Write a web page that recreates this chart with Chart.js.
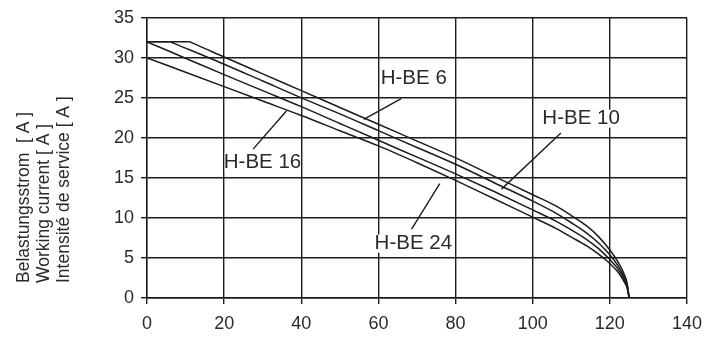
<!DOCTYPE html>
<html>
<head>
<meta charset="utf-8">
<script src="https://cdn.jsdelivr.net/npm/chart.js@4/dist/chart.umd.min.js"></script>
<style>
  html, body { margin: 0; padding: 0; background: #ffffff; }
  #wrap { width: 715px; height: 338px; position: relative; }
</style>
</head>
<body>
<div id="wrap"><canvas id="c" width="715" height="338"></canvas></div>
<script>
// ---- data ----
const seriesNames = ["H-BE 6", "H-BE 10", "H-BE 16", "H-BE 24"];
const h6X  = [0, 11, 12, 20, 30, 40, 50, 60, 70, 80, 90, 100, 106, 110, 114, 117, 120, 122, 123.5, 124.5, 125];
const h6Y  = [32, 32, 31.8, 30.1, 28.0, 25.9, 23.8, 21.7, 19.6, 17.5, 15.2, 12.9, 11.5, 10.3, 9.0, 7.7, 6.0, 4.6, 3.2, 1.8, 0];
const h10X = [0, 6, 7, 20, 30, 40, 50, 60, 70, 80, 90, 100, 106, 110, 114, 117, 120, 122, 123.5, 124.5, 125];
const h10Y = [32, 32, 31.8, 29.2, 27.1, 25.0, 23.0, 20.9, 18.8, 16.7, 14.4, 12.1, 10.6, 9.4, 8.1, 6.9, 5.4, 4.1, 2.8, 1.6, 0];
const h16X = [0, 10, 20, 30, 40, 50, 60, 70, 80, 90, 100, 106, 110, 114, 117, 120, 122, 123.5, 124.5, 125];
const h16Y = [32, 29.95, 27.9, 25.9, 23.9, 21.8, 19.7, 17.6, 15.5, 13.3, 11.0, 9.6, 8.5, 7.3, 6.2, 4.8, 3.7, 2.5, 1.4, 0];
const h24X = [0, 10, 20, 30, 40, 50, 60, 70, 80, 90, 100, 106, 110, 114, 117, 120, 122, 123.5, 124.5, 125];
const h24Y = [30, 28.2, 26.4, 24.6, 22.8, 20.9, 19.0, 16.9, 14.7, 12.4, 10.1, 8.7, 7.6, 6.5, 5.5, 4.3, 3.3, 2.2, 1.2, 0];
const xTicks = [0, 20, 40, 60, 80, 100, 120, 140];
const yTicks = [0, 5, 10, 15, 20, 25, 30, 35];
const yTitleLines = ["Belastungsstrom  [ A ]", "Working current [ A ]", "Intensité de service [ A ]"];

// curve labels with leader lines, in data units
const labelText  = ["H-BE 6", "H-BE 10", "H-BE 16", "H-BE 24"];
const labelAtX   = [60.6, 102.5, 19.9, 59.0];
const labelAtY   = [27.4, 22.4, 17.0, 6.8];
const leaderFrom = [[65.9, 24.9], [107.3, 20.6], [27.5, 18.6], [68.6, 8.6]];
const leaderTo   = [[56.2, 22.3], [91.9, 13.6], [36.2, 23.4], [75.9, 14.3]];

function pts(xs, ys) { return xs.map((x, i) => ({ x: x, y: ys[i] })); }

const INK = '#1c1c1c';
const TXT = '#2a2a2a';
const FONT = '"Liberation Sans", Arial, Helvetica, sans-serif';

const annotPlugin = {
  id: 'annot',
  afterDatasetsDraw(chart) {
    const ctx = chart.ctx;
    const xs = chart.scales.x, ys = chart.scales.y;
    ctx.save();
    ctx.strokeStyle = INK;
    ctx.lineWidth = 1.4;
    for (let i = 0; i < labelText.length; i++) {
      ctx.beginPath();
      ctx.moveTo(xs.getPixelForValue(leaderFrom[i][0]), ys.getPixelForValue(leaderFrom[i][1]));
      ctx.lineTo(xs.getPixelForValue(leaderTo[i][0]), ys.getPixelForValue(leaderTo[i][1]));
      ctx.stroke();
    }
    ctx.font = '20.5px ' + FONT;
    ctx.textAlign = 'left';
    ctx.textBaseline = 'middle';
    for (let i = 0; i < labelText.length; i++) {
      const tx = xs.getPixelForValue(labelAtX[i]);
      const ty = ys.getPixelForValue(labelAtY[i]);
      const w = ctx.measureText(labelText[i]).width;
      ctx.fillStyle = '#ffffff';
      ctx.fillRect(tx + 1, ty - 9, w - 2, 18);
      ctx.fillStyle = TXT;
      ctx.fillText(labelText[i], tx, ty);
    }
    ctx.restore();
  },
  afterDraw(chart) {
    const ctx = chart.ctx;
    ctx.save();
    ctx.fillStyle = TXT;
    ctx.font = '17.5px ' + FONT;
    ctx.textAlign = 'left';
    ctx.textBaseline = 'middle';
    const cols = [24, 44, 64];
    for (let i = 0; i < yTitleLines.length; i++) {
      ctx.save();
      ctx.translate(cols[i], 283);
      ctx.rotate(-Math.PI / 2);
      ctx.fillText(yTitleLines[i], 0, 0);
      ctx.restore();
    }
    ctx.restore();
  }
};

const mk = (label, xs, ys) => ({
  label: label,
  data: pts(xs, ys),
  borderColor: INK,
  backgroundColor: INK,
  borderWidth: 1.5,
  pointRadius: 0,
  fill: false,
  cubicInterpolationMode: 'monotone'
});

new Chart(document.getElementById('c'), {
  type: 'line',
  data: {
    datasets: [
      mk(seriesNames[0], h6X, h6Y),
      mk(seriesNames[1], h10X, h10Y),
      mk(seriesNames[2], h16X, h16Y),
      mk(seriesNames[3], h24X, h24Y)
    ]
  },
  options: {
    responsive: false,
    animation: false,
    devicePixelRatio: 1,
    layout: { padding: { left: 0, right: 28, top: 16, bottom: 0 } },
    plugins: { legend: { display: false }, tooltip: { enabled: false }, title: { display: false } },
    scales: {
      x: {
        type: 'linear',
        min: 0, max: 140,
        afterBuildTicks: (s) => { s.ticks = xTicks.map(v => ({ value: v })); },
        afterFit: (s) => { s.height = 40; },
        grid: { color: INK, lineWidth: 1.4, drawTicks: true, tickLength: 6, tickColor: INK },
        border: { display: true, color: INK, width: 1.4 },
        ticks: { color: TXT, font: { family: FONT, size: 18 }, padding: 9, maxRotation: 0 }
      },
      y: {
        type: 'linear',
        min: 0, max: 35,
        afterBuildTicks: (s) => { s.ticks = yTicks.map(v => ({ value: v })); },
        afterFit: (s) => { s.width = 147; },
        grid: { color: INK, lineWidth: 1.4, drawTicks: true, tickLength: 6, tickColor: INK },
        border: { display: true, color: INK, width: 1.4 },
        ticks: { color: TXT, font: { family: FONT, size: 18 }, padding: 7 }
      }
    }
  },
  plugins: [annotPlugin]
});
</script>
</body>
</html>
